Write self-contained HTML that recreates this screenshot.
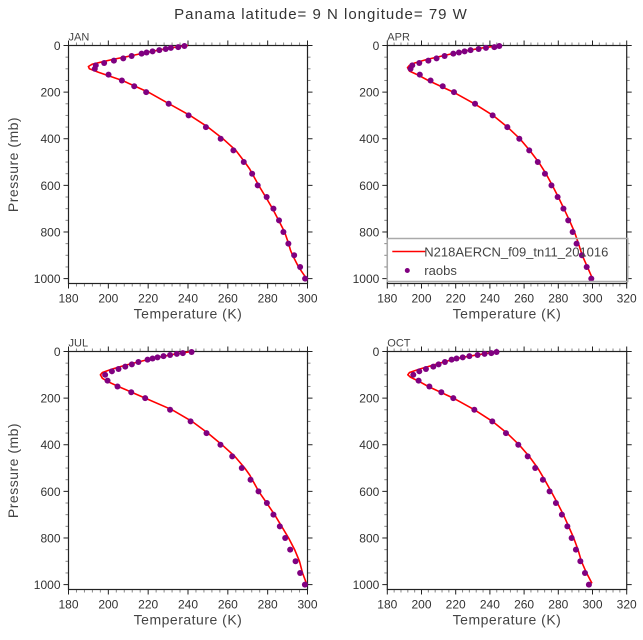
<!DOCTYPE html>
<html><head><meta charset="utf-8"><style>
html,body{margin:0;padding:0;background:#fff;}
svg{display:block;font-family:"Liberation Sans",sans-serif;}
</style></head><body>
<svg id="chart" width="643" height="640" viewBox="0 0 643 640">
<text x="321" y="19" text-anchor="middle" font-size="15" fill="#333" letter-spacing="1">Panama  latitude= 9 N longitude= 79 W</text>
</svg>
<script>
const pressureLevels = [2,7,10,15,20,25,30,35,45,55,65,75,85,100,125,150,175,200,250,300,350,400,450,500,550,600,650,700,750,800,850,900,950,1000];
const janObs = [238.2,235.1,231.4,228.8,225.6,222.2,219.2,216.7,211.7,207.5,202.8,197.9,193.7,193.2,200.1,206.8,213,219,230.3,240.3,249,256.4,262.8,268,272.2,275,279.5,282.9,285.7,287.9,290.4,293.3,296.3,298.8];
const aprObs = [245.5,242.6,237.7,233.4,228.7,225.2,221.9,218.6,213.5,208.8,204,198.7,194.6,193.6,199,205.3,212.4,219,231.3,241.6,250.2,257.2,263,268,272.2,276,279.6,283,285.8,288.4,290.7,293.8,296.6,299.3];
const julObs = [241.8,237.4,234.4,231,227.7,224.7,222.2,219.7,215.1,211.8,208.5,205.1,201.8,198.4,199.6,204.6,211.5,218.5,231,241.3,249.3,256.3,262.2,267,271.4,275.4,279.6,282.9,286.1,288.8,291.3,294,296.3,298.7];
const octObs = [243.9,240.8,236.9,232.8,228,224.1,220.5,217.6,213.7,210,206.9,202.6,198.7,195.2,198.3,204.6,211.6,218.6,230.9,241.4,249.4,256.6,262.1,266.5,271,274.9,278.6,282.1,285.3,287.8,290.3,292.9,295.6,297.9];
const janLineP = [0,10,20,30,45,60,70,80,90,100,115,150,200,250,300,350,400,450,500,530,600,650,700,750,800,850,880,900,950,1000];
const janLineT = [240,231.5,225,219,211,202,197,192,190,190.5,195,207,220,230.5,241,250,257.5,264,268.5,271,275.5,279,282.5,285.5,288.5,290.5,291.5,292.5,295.5,299.5];
const aprLineP = [0,5,10,20,30,45,60,75,85,95,110,125,150,200,250,300,350,400,450,500,550,600,650,700,750,800,850,900,950,1000];
const aprLineT = [246,241,236,228,221,212,203,196,193,191.8,193,197.5,204,218.6,231,241.8,250.3,257.5,263.3,268.5,272.8,276.5,280,283.3,286.5,289.5,291.8,294,297,300];
const julLineP = [0,10,20,30,45,60,75,90,100,115,130,150,200,250,300,350,400,450,500,530,600,650,700,750,800,850,900,950,1000];
const julLineT = [242,234,228,222,215,208,202,197,196,197,200,205,218.5,232,242,250,257,263.5,268.5,271,275.5,279.5,283.5,287,290.5,293.5,296,297.5,299.7];
const octLineP = [0,10,20,30,45,60,75,90,100,110,130,150,200,250,300,350,400,450,500,550,600,650,700,750,800,850,900,950,995];
const octLineT = [244.5,236.5,228,220.5,213,206,199,193,192,193.5,199,204,218.6,231,241.5,250,257,263,268,272,275.8,279.5,283,286,289,291.5,293.5,296.5,299.7];
const xTicksLeft = [180,200,220,240,260,280,300];
const xTicksRight = [180,200,220,240,260,280,300,320];
const yTicks = [0,200,400,600,800,1000];

const NS="http://www.w3.org/2000/svg";
const svg=document.getElementById('chart');
function mk(tag,attrs,parent){const e=document.createElementNS(NS,tag);for(const k in attrs)e.setAttribute(k,attrs[k]);(parent||svg).appendChild(e);return e;}

const panels=[
 {name:'jan',label:'JAN',x0:68.5,x1:307.5,y0:45.5,y1:283.5,tmax:300,ticks:xTicksLeft,obs:janObs,lp:janLineP,lt:janLineT,ylab:true},
 {name:'apr',label:'APR',x0:387.3,x1:626.7,y0:45.5,y1:283.5,tmax:320,ticks:xTicksRight,obs:aprObs,lp:aprLineP,lt:aprLineT,legend:true},
 {name:'jul',label:'JUL',x0:68.5,x1:307.5,y0:351.5,y1:589.5,tmax:300,ticks:xTicksLeft,obs:julObs,lp:julLineP,lt:julLineT,ylab:true},
 {name:'oct',label:'OCT',x0:387.3,x1:626.7,y0:351.5,y1:589.5,tmax:320,ticks:xTicksRight,obs:octObs,lp:octLineP,lt:octLineT}
];
const PMAX=1021;
panels.forEach(p=>{
  const g=mk('g',{});
  
  
  const xs=t=>p.x0+(t-180)/(p.tmax-180)*(p.x1-p.x0);
  const ys=v=>p.y0+v/PMAX*(p.y1-p.y0);
  for(let t=180;t<=p.tmax;t+=4){
    const maj=(t%20===0);const L=maj?5:3;const c=maj?'#222':'#888';
    mk('line',{x1:xs(t),x2:xs(t),y1:p.y1,y2:p.y1+L,stroke:c,'stroke-width':1},g);
    mk('line',{x1:xs(t),x2:xs(t),y1:p.y0,y2:p.y0-L,stroke:c,'stroke-width':1},g);
  }
  for(let v=0;v<=1000;v+=50){
    const maj=(v%200===0);const L=maj?5:3;const c=maj?'#222':'#888';
    mk('line',{x1:p.x0,x2:p.x0-L,y1:ys(v),y2:ys(v),stroke:c,'stroke-width':1},g);
    mk('line',{x1:p.x1,x2:p.x1+L,y1:ys(v),y2:ys(v),stroke:c,'stroke-width':1},g);
  }
  const fr=mk('rect',{x:p.x0,y:p.y0,width:p.x1-p.x0,height:p.y1-p.y0,fill:'none',stroke:'#222','stroke-width':1.2},g);
  
  
  p.ticks.forEach(t=>{
    const tx=mk('text',{x:xs(t),y:p.y1+19,'text-anchor':'middle','font-size':12,fill:'#333'},g);
    tx.textContent=t;
    
    
  });
  yTicks.forEach(v=>{
    const tx=mk('text',{x:p.x0-8,y:ys(v)+4.5,'text-anchor':'end','font-size':12,fill:'#333'},g);
    tx.textContent=v;
    
    
  });
  const xt=mk('text',{x:(p.x0+p.x1)/2,y:p.y1+35,'text-anchor':'middle','font-size':14,fill:'#444','letter-spacing':0.5},g);
  xt.textContent='Temperature (K)';
  
  
  if(p.ylab){
    const cy=(p.y0+p.y1)/2;
    const yt=mk('text',{x:18,y:cy,'text-anchor':'middle','font-size':14,fill:'#444','letter-spacing':0.5,transform:`rotate(-90 18 ${cy})`},g);
    yt.textContent='Pressure (mb)';
    
    
  }
  const lb=mk('text',{x:p.x0,y:p.y0-5,'font-size':11,fill:'#444'},g);
  lb.textContent=p.label;
  
  
  const d=p.lp.map((v,i)=>(i?'L':'M')+xs(p.lt[i]).toFixed(1)+','+ys(v).toFixed(1)).join(' ');
  const ln=mk('path',{d:d,fill:'none',stroke:'#ff0000','stroke-width':1.6,'stroke-linejoin':'round'},g);
  
  
  p.obs.forEach((t,i)=>{
    const c=mk('circle',{cx:xs(t),cy:ys(pressureLevels[i]),r:3,fill:'#800080'},g);
    
    
  });
  if(p.legend){
    const lg=mk('g',{},g);
    
    
    mk('rect',{x:p.x0,y:238.5,width:p.x1-p.x0+1,height:43,fill:'none',stroke:'#aaa','stroke-width':1.5},lg);
    const ll=mk('line',{x1:p.x0+5,x2:p.x0+38,y1:251.5,y2:251.5,stroke:'#ff0000','stroke-width':1.6},lg);
    
    
    const t1=mk('text',{x:p.x0+37,y:256.5,'font-size':13,fill:'#444'},lg);
    t1.textContent='N218AERCN_f09_tn11_201016';
    
    
    const lc=mk('circle',{cx:p.x0+20,cy:270.5,r:2.5,fill:'#800080'},lg);
    
    
    const t2=mk('text',{x:p.x0+37,y:275,'font-size':13,fill:'#444'},lg);
    t2.textContent='raobs';
    
    
  }
});
</script>
</body></html>
